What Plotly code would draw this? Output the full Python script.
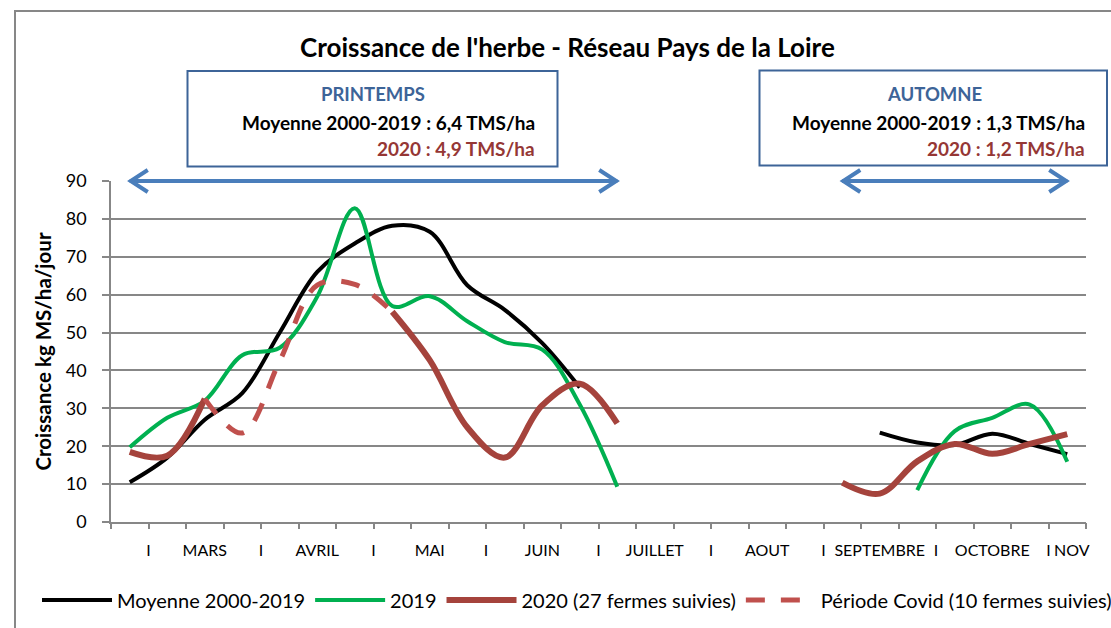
import plotly.graph_objects as go

# ---- data (10-day periods, from last décade of February to first of November) ----
categories = ["Fév-3", "Mar-1", "Mar-2", "Mar-3", "Avr-1", "Avr-2", "Avr-3",
              "Mai-1", "Mai-2", "Mai-3", "Juin-1", "Juin-2", "Juin-3",
              "Juil-1", "Juil-2", "Juil-3", "Août-1", "Août-2", "Août-3",
              "Sep-1", "Sep-2", "Sep-3", "Oct-1", "Oct-2", "Oct-3", "Nov-1"]
N = None
moyenne = [10.5, 17, 27, 34, 50, 66, 73.5, 78.2, 76.6, 62.5, 56, 47.2, 35.5,
           N, N, N, N, N, N, N,
           23.6, 21, 20.3, 23.3, 20.6, 17.9]
y2019 = [19.7, 27.5, 32, 44, 46, 59.5, 82.8, 57, 59.6, 53, 47.5, 45.5, 31, 9.3,
         N, N, N, N, N, N, N,
         8.4, 24, 27.5, 31, 15.9]
y2020 = [18.5, 17.5, 32.5, N, N, N, N, 55.5, 42.7, 25, 17, 30.8, 36.5, 26,
         N, N, N, N, N,
         10.4, 7.5, 16, 20.6, 18, 20.6, 23.2]
covid = [N, N, 32.5, 23.5, 42.5, 62.5, 62.7, 55.5,
         N, N, N, N, N, N, N, N, N, N, N, N, N, N, N, N, N, N]

tick_labels = ["I", "MARS", "I", "AVRIL", "I", "MAI", "I", "JUIN", "I", "JUILLET",
               "I", "AOUT", "I", "SEPTEMBRE", "I", "OCTOBRE", "I", "NOV"]
tick_positions = [1, 2.5, 4, 5.5, 7, 8.5, 10, 11.5, 13, 14.5,
                  16, 17.5, 19, 20.5, 22, 23.5, 25, 25.62]

x = [i + 0.5 for i in range(len(categories))]

# ---- layout geometry ----
W, H = 1111, 628
PL, PR, PT, PB = 111, 1086, 181, 522


def px(v):
    return (v - PL) / (PR - PL)


def py(v):
    return (PB - v) / (PB - PT)


FONT = "Lato, 'Open Sans', sans-serif"
GRID = "#878787"
BLUE = "#4A7EBB"
BOXC = "#3D6498"
DARKRED = "#953735"

fig = go.Figure()
fig.add_trace(go.Scatter(x=x, y=moyenne, name="Moyenne 2000-2019", mode="lines",
                         line=dict(color="#000000", width=4, shape="spline", smoothing=1),
                         text=categories, hovertemplate="%{text}: %{y}<extra>Moyenne</extra>"))
fig.add_trace(go.Scatter(x=x, y=y2019, name="2019", mode="lines",
                         line=dict(color="#00B050", width=4, shape="spline", smoothing=1),
                         text=categories, hovertemplate="%{text}: %{y}<extra>2019</extra>"))
fig.add_trace(go.Scatter(x=x, y=y2020, name="2020 (27 fermes suivies)", mode="lines",
                         line=dict(color="#A5433C", width=6, shape="spline", smoothing=1),
                         text=categories, hovertemplate="%{text}: %{y}<extra>2020</extra>"))
fig.add_trace(go.Scatter(x=x, y=covid, name="Période Covid (10 fermes suivies)", mode="lines",
                         line=dict(color="#C0504D", width=5, shape="spline", smoothing=1,
                                   dash="19px,16px"),
                         text=categories, hovertemplate="%{text}: %{y}<extra>Covid</extra>"))
# invisible helper trace carrying the tick-mark axis
fig.add_trace(go.Scatter(x=[0], y=[None], xaxis="x2", showlegend=False, hoverinfo="skip"))

shapes = []
# outer chart frame
shapes.append(dict(type="rect", xref="paper", yref="paper", x0=px(15), x1=px(1250),
                   y0=py(760), y1=py(11), line=dict(color=GRID, width=2), layer="below"))
# season boxes
shapes.append(dict(type="rect", xref="paper", yref="paper", x0=px(187.5), x1=px(557.5),
                   y0=py(166.5), y1=py(71), line=dict(color=BOXC, width=2)))
shapes.append(dict(type="rect", xref="paper", yref="paper", x0=px(759.5), x1=px(1107),
                   y0=py(165.5), y1=py(70.5), line=dict(color=BOXC, width=2)))

# double arrows spanning the seasons (category centres)
for a, b in [(0.5, 13.5), (19.5, 25.5)]:
    xa, xb = a / len(categories), b / len(categories)
    shapes.append(dict(type="line", xref="paper", yref="paper", x0=xa, x1=xb, y0=1, y1=1,
                       line=dict(color=BLUE, width=4)))
    shapes.append(dict(type="path", xref="paper", yref="paper", xsizemode="pixel",
                       ysizemode="pixel", xanchor=xa, yanchor=1,
                       path="M 18,11 L 1,0 L 18,-11", line=dict(color=BLUE, width=4)))
    shapes.append(dict(type="path", xref="paper", yref="paper", xsizemode="pixel",
                       ysizemode="pixel", xanchor=xb, yanchor=1,
                       path="M -18,11 L -1,0 L -18,-11", line=dict(color=BLUE, width=4)))

annotations = [
    dict(text="<b>Croissance de l'herbe - Réseau Pays de la Loire</b>", x=px(567.5), y=py(47),
         font=dict(size=26, color="#000000", family=FONT)),
    dict(text="<b>PRINTEMPS</b>", x=px(372.5), y=py(94), font=dict(size=18.5, color=BOXC, family=FONT)),
    dict(text="<b>Moyenne 2000-2019 : 6,4 TMS/ha</b>", x=px(537), y=py(123), xanchor="right",
         font=dict(size=19, color="#000000", family=FONT)),
    dict(text="<b>2020 : 4,9 TMS/ha</b>", x=px(537), y=py(148.5), xanchor="right",
         font=dict(size=19, color=DARKRED, family=FONT)),
    dict(text="<b>AUTOMNE</b>", x=px(934), y=py(94), font=dict(size=18.5, color=BOXC, family=FONT)),
    dict(text="<b>Moyenne 2000-2019 : 1,3 TMS/ha</b>", x=px(1087), y=py(123), xanchor="right",
         font=dict(size=19, color="#000000", family=FONT)),
    dict(text="<b>2020 : 1,2 TMS/ha</b>", x=px(1087), y=py(148.5), xanchor="right",
         font=dict(size=19, color=DARKRED, family=FONT)),
]
for a in annotations:
    a.update(xref="paper", yref="paper", showarrow=False)
    a.setdefault("xanchor", "center")
    a["yanchor"] = "middle"

fig.update_layout(
    width=W, height=H,
    margin=dict(l=PL, r=W - PR, t=PT, b=H - PB, pad=0, autoexpand=False),
    paper_bgcolor="white", plot_bgcolor="white",
    font=dict(family=FONT, color="#000000"),
    showlegend=True,
    legend=dict(orientation="h", x=px(37), xanchor="left", y=py(600), yanchor="middle",
                font=dict(size=20, family=FONT), itemwidth=70, traceorder="normal",
                bgcolor="rgba(0,0,0,0)"),
    xaxis=dict(range=[0, len(categories)], tickmode="array", tickvals=tick_positions,
               ticktext=tick_labels, ticks="", showgrid=False, zeroline=False,
               showline=True, linecolor=GRID, linewidth=1.5, ticklabelstandoff=13,
               automargin=False,
               tickfont=dict(size=16, family=FONT, color="#000000")),
    xaxis2=dict(range=[0, len(categories)], overlaying="x", anchor="y", side="bottom",
                tickmode="linear", tick0=0, dtick=1, ticks="outside", ticklen=6,
                tickcolor=GRID, tickwidth=1.5, showticklabels=False, showgrid=False,
                zeroline=False, showline=False, automargin=False),
    yaxis=dict(range=[0, 90], tickmode="linear", tick0=0, dtick=10, showgrid=True,
               gridcolor=GRID, gridwidth=1.5, zeroline=False, showline=True, linecolor=GRID,
               linewidth=1.5, ticks="outside", ticklen=7, tickcolor=GRID, tickwidth=1.5,
               ticklabelstandoff=12, automargin=False,
               tickfont=dict(size=18, family=FONT, color="#000000"),
               title=dict(text="<b>Croissance kg MS/ha/jour</b>", standoff=9,
                          font=dict(size=20.5, family=FONT, color="#000000"))),
    shapes=shapes,
    annotations=annotations,
)

fig.write_html("out.html", config={"displayModeBar": False},
               post_script="document.body.style.margin='0px';document.body.style.overflow='hidden';")
